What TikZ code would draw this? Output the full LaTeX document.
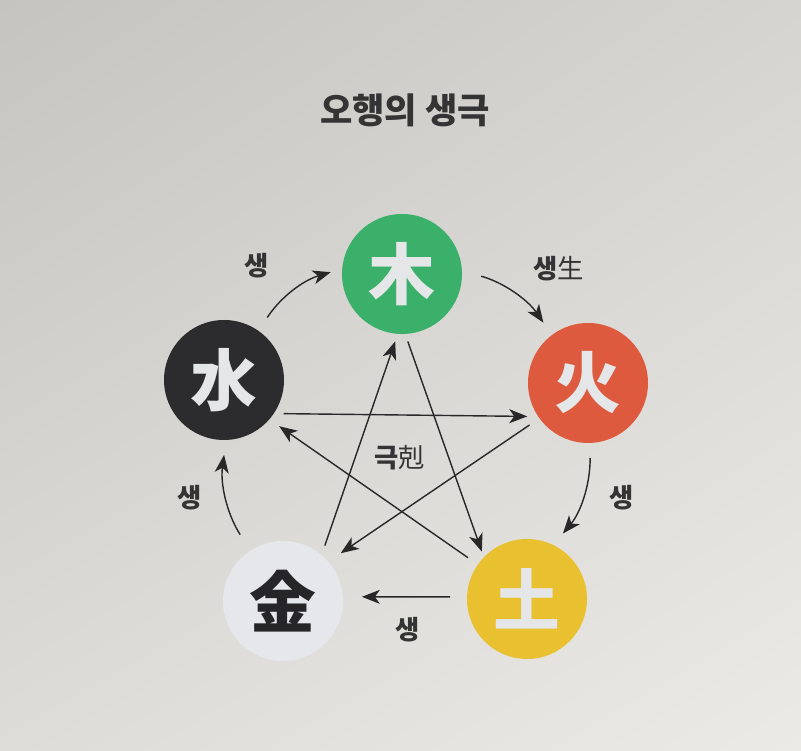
\documentclass[tikz,border=0pt]{standalone}
\usepackage{fontspec}
\newfontfamily\krfont{Noto Sans CJK KR}
\usetikzlibrary{arrows.meta,shadings}

\definecolor{bgtl}{RGB}{198,196,192}
\definecolor{bgtr}{RGB}{214,212,208}
\definecolor{bgbl}{RGB}{222,220,216}
\definecolor{bgbr}{RGB}{236,234,230}
\definecolor{mugreen}{RGB}{58,176,106}
\definecolor{huored}{RGB}{222,90,62}
\definecolor{tuyellow}{RGB}{232,192,48}
\definecolor{jinwhite}{RGB}{230,231,235}
\definecolor{shuiblack}{RGB}{44,43,45}
\definecolor{glyphlight}{RGB}{228,230,232}
\definecolor{glyphdark}{RGB}{38,38,40}
\definecolor{arrowgray}{RGB}{40,40,40}
\definecolor{textgray}{RGB}{52,52,52}

\begin{document}
\begin{tikzpicture}[
  element/.style={
    circle, minimum size=2.4cm, inner sep=0pt, outer sep=0pt,
    font=\krfont\bfseries\fontsize{38}{40}\selectfont
  },
  sheng/.style={-{Stealth[length=0.36cm, width=0.28cm, inset=0.1cm]}, line width=0.8pt, arrowgray},
  ke/.style={-{Stealth[length=0.36cm, width=0.28cm, inset=0.1cm]}, line width=0.8pt, arrowgray},
  tagtext/.style={font=\krfont\fontsize{15}{17}\selectfont, text=textgray}
]

% === Background ===
\shade[upper left=bgtl, upper right=bgtr, lower left=bgbl, lower right=bgbr]
  (0,0) rectangle (16.02,15.02);
\useasboundingbox (0,0) rectangle (16.02,15.02);

% === Title ===
\node[font=\krfont\bfseries\fontsize{20}{22}\selectfont, text=textgray] (title) at (8.1,12.82) {오행의 생극};

% === Five elements ===
\node[element, fill=mugreen, text=glyphlight] (mu) at (8.04,9.54) {木};
\node[element, fill=huored, text=glyphlight] (huo) at (11.76,7.36) {火};
\node[element, fill=tuyellow, text=glyphlight] (tu) at (10.54,3.04) {土};
\node[element, fill=jinwhite, text=glyphdark] (jin) at (5.66,3.00) {金};
\node[element, fill=shuiblack, text=glyphlight] (shui) at (4.48,7.42) {水};

% === Generating cycle (outer arrows) ===
\draw[sheng, shorten <=0.32cm, shorten >=0.24cm] (shui.55) to[bend left=20] (mu.175);
\draw[sheng, shorten <=0.4cm, shorten >=0.3cm] (mu.3) to[bend left=20] (huo.127);
\draw[sheng, shorten <=0.3cm, shorten >=0.3cm] (huo.-88) to[bend left=20] (tu.64);
\draw[sheng, shorten <=0.34cm, shorten >=0.38cm] (tu.178) -- (jin.4);
\draw[sheng, shorten <=0.38cm, shorten >=0.3cm] (jin.123) to[bend left=20] (shui.-88);

% === Overcoming cycle (star) ===
\draw[ke, shorten <=0.2cm, shorten >=0.16cm] (jin.50) -- (mu.-94);
\draw[ke, shorten <=0.16cm, shorten >=0.12cm] (mu.-87) -- (tu.136);
\draw[ke, shorten <=0.24cm, shorten >=0.24cm] (tu.145) -- (shui.-41);
\draw[ke, shorten <=0.2cm, shorten >=0.22cm] (shui.-34) -- (huo.214);
\draw[ke, shorten <=0.24cm, shorten >=0.3cm] (huo.216) -- (jin.41);

% === Labels ===
\node[tagtext, font=\krfont\bfseries\fontsize{15}{17}\selectfont] (shengA) at (5.14,9.70) {생};
\node[tagtext] (shengB) at (11.17,9.65) {{\bfseries 생}生};
\node[tagtext, font=\krfont\bfseries\fontsize{15}{17}\selectfont] (shengC) at (12.44,5.06) {생};
\node[tagtext, font=\krfont\bfseries\fontsize{15}{17}\selectfont] (shengD) at (8.16,2.42) {생};
\node[tagtext, font=\krfont\bfseries\fontsize{15}{17}\selectfont] (shengE) at (3.80,5.06) {생};
\node[tagtext] (kelabel) at (8.00,5.86) {{\bfseries 극}剋};

\end{tikzpicture}
\end{document}
